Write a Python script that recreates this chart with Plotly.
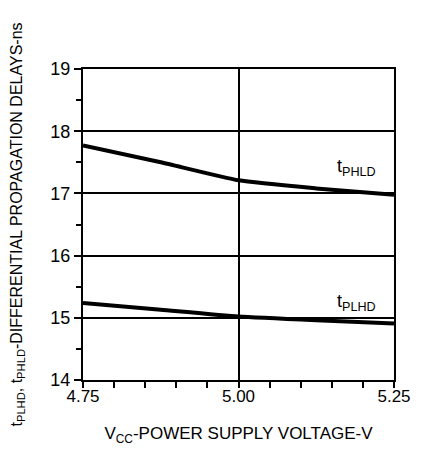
import plotly.graph_objects as go

vcc = [4.75, 4.875, 5.00, 5.125, 5.25]
t_phld = [17.77, 17.50, 17.21, 17.08, 16.98]
t_plhd = [15.24, 15.13, 15.02, 14.96, 14.91]

x_tick_vals = [4.75, 5.00, 5.25]
x_tick_text = ["4.75", "5.00", "5.25"]
y_tick_vals = [14, 15, 16, 17, 18, 19]

label_phld = "t<sub>PHLD</sub>"
label_plhd = "t<sub>PLHD</sub>"
label_x = 5.19
label_y_phld = 17.42
label_y_plhd = 15.25

FONT = "Liberation Sans"

fig = go.Figure()
for ys in (t_phld, t_plhd):
    fig.add_trace(go.Scatter(x=vcc, y=ys, mode="lines",
                             line=dict(color="black", width=4, shape="spline", smoothing=0.5),
                             showlegend=False, hoverinfo="skip"))

fig.add_annotation(x=label_x, y=label_y_phld, text=label_phld, showarrow=False,
                   font=dict(family=FONT, size=18, color="black"))
fig.add_annotation(x=label_x, y=label_y_plhd, text=label_plhd, showarrow=False,
                   font=dict(family=FONT, size=18, color="black"))

# page body has an 8px margin, so the figure is sized/offset to compensate
fig.update_layout(
    width=414, height=443,
    margin=dict(l=75, r=28, t=61, b=71),
    paper_bgcolor="white", plot_bgcolor="white",
    font=dict(family=FONT, color="black"),
    xaxis=dict(
        range=[4.75, 5.25], tickvals=x_tick_vals, ticktext=x_tick_text,
        ticks="", showgrid=True, gridcolor="black", gridwidth=1.5,
        showline=True, linecolor="black", linewidth=2, mirror=True,
        zeroline=False, tickfont=dict(size=17), automargin=False,
        minor=dict(tick0=4.75, dtick=0.05, ticks="outside", ticklen=6,
                   tickcolor="black", tickwidth=1.5, showgrid=False),
        title=dict(text="V<sub>CC</sub>-POWER SUPPLY VOLTAGE-V",
                   font=dict(size=17), standoff=22),
    ),
    yaxis=dict(
        range=[14, 19], tickvals=y_tick_vals,
        ticks="outside", ticklen=7, tickwidth=1.5, tickcolor="black",
        showgrid=True, gridcolor="black", gridwidth=1.5,
        showline=True, linecolor="black", linewidth=2, mirror=True,
        zeroline=False, tickfont=dict(size=18), automargin=False,
        minor=dict(dtick=0.5, ticks="outside", ticklen=5,
                   tickcolor="black", tickwidth=1.5, showgrid=False),
        title=dict(text="t<sub>PLHD</sub>, t<sub>PHLD</sub>-DIFFERENTIAL PROPAGATION DELAYS-ns",
                   font=dict(size=16), standoff=26),
    ),
)

fig.write_html("out.html")
